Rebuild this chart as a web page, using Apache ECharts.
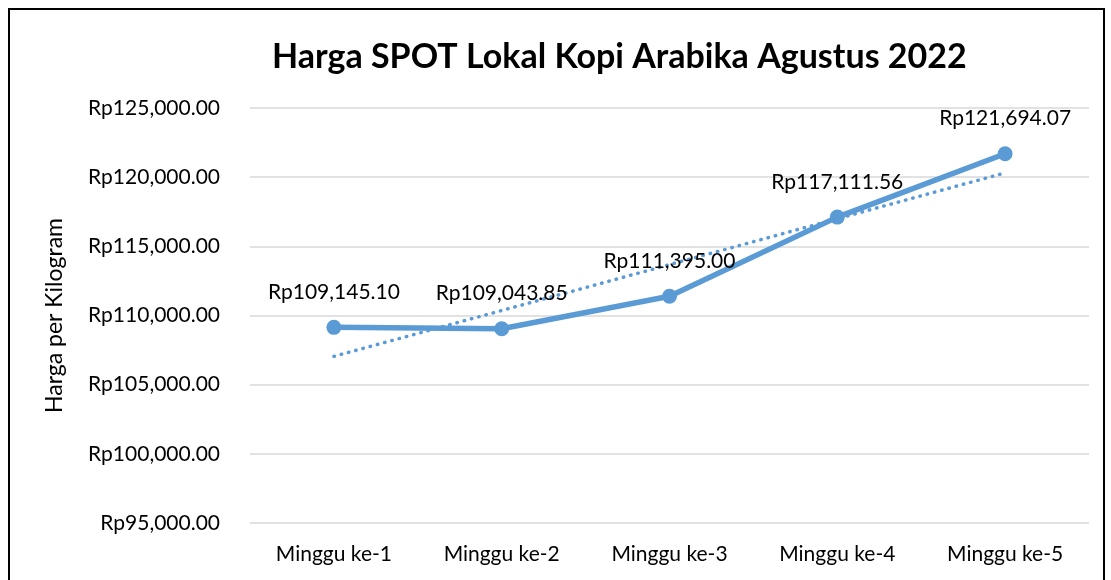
<!DOCTYPE html>
<html>
<head>
<meta charset="utf-8">
<script src="https://cdn.jsdelivr.net/npm/echarts@6/dist/echarts.min.js"></script>
<style>
  html, body { margin: 0; padding: 0; background: #fff; }
  #frame { position: absolute; left: 8px; top: 8px; width: 1093px; height: 600px; border: 2px solid #000; }
  #chart { width: 1111px; height: 580px; position: absolute; left: 0; top: 0; }
</style>
</head>
<body>
<div id="frame"></div>
<div id="chart"></div>
<script>
// data
const weeks = ['Minggu ke-1', 'Minggu ke-2', 'Minggu ke-3', 'Minggu ke-4', 'Minggu ke-5']
const prices = [109145.10, 109043.85, 111395.00, 117111.56, 121694.07]
// trendline end points
const trendValues = [107045, null, null, null, 120311]

const fmt = v => 'Rp' + v.toLocaleString('en-US', { minimumFractionDigits: 2, maximumFractionDigits: 2 })
const font = 'Lato, "Open Sans", sans-serif'

const chart = echarts.init(document.getElementById('chart'))

chart.setOption({
  animation: false,
  title: {
    text: 'Harga SPOT Lokal Kopi Arabika Agustus 2022',
    left: 267,
    top: 35,
    textStyle: { fontFamily: font, fontSize: 34, fontWeight: 'bold', color: '#000' }
  },
  grid: { left: 250, right: 22, top: 108, bottom: 57 },
  xAxis: {
    type: 'category',
    data: weeks,
    axisLine: { show: false },
    axisTick: { show: false },
    axisLabel: { margin: 21, fontFamily: font, fontSize: 21, color: '#000' }
  },
  yAxis: {
    type: 'value',
    min: 95000,
    max: 125000,
    interval: 5000,
    name: 'Harga per Kilogram',
    nameLocation: 'middle',
    nameGap: 184,
    nameTextStyle: { fontFamily: font, fontSize: 23, color: '#000' },
    axisLabel: { margin: 30, fontFamily: font, fontSize: 21, color: '#000', formatter: fmt },
    splitLine: { lineStyle: { color: '#d9d9d9', width: 1.5 } }
  },
  series: [
    {
      name: 'Harga',
      type: 'line',
      data: prices,
      symbol: 'circle',
      symbolSize: 15,
      lineStyle: { color: '#5b9bd5', width: 5.5 },
      itemStyle: { color: '#5b9bd5' },
      label: {
        show: true,
        position: 'top',
        distance: 17,
        formatter: p => fmt(p.value),
        fontFamily: font,
        fontSize: 21,
        color: '#000'
      },
      z: 3
    },
    {
      name: 'Trend',
      type: 'line',
      data: trendValues,
      connectNulls: true,
      symbol: 'none',
      lineStyle: { color: '#5b9bd5', width: 3.5, type: [0.5, 7], cap: 'round' },
      z: 2
    }
  ]
})
</script>
</body>
</html>
